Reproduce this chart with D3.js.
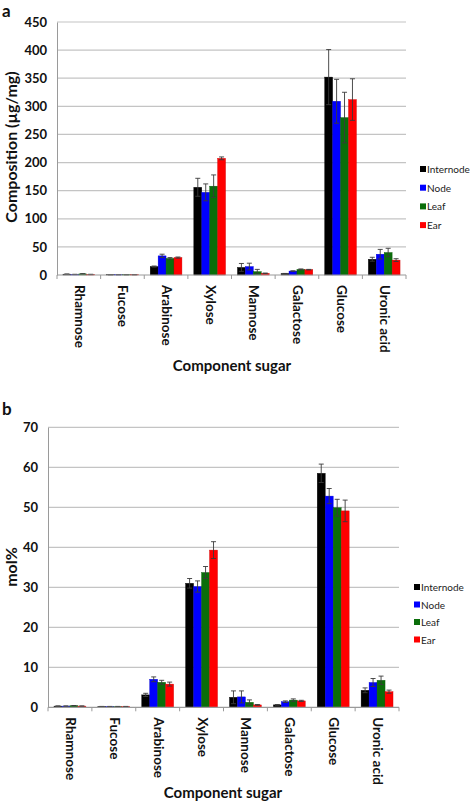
<!DOCTYPE html>
<html><head><meta charset="utf-8">
<script src="https://cdn.jsdelivr.net/npm/d3@7/dist/d3.min.js"></script>
<style>body{margin:0;background:#fff}svg{display:block}text{font-family:Lato,"Open Sans",sans-serif}</style>
</head><body>
<script>
const categories = ["Rhamnose","Fucose","Arabinose","Xylose","Mannose","Galactose","Glucose","Uronic acid"];
const seriesNames = ["Internode","Node","Leaf","Ear"];
const seriesColors = ["#000000","#0000ff","#0a6e0a","#ff0000"];

// Panel a: composition (µg/mg)
const compInternode = [1.5, 0.5, 15, 156, 13.5, 2.5, 352, 28];
const compNode      = [1,   0.5, 34, 147, 15,   7,   309, 37];
const compLeaf      = [2,   0.5, 29.5,158, 6,   10,  280, 40];
const compEar       = [1,   0.5, 31, 207.5, 3,  9.5, 312, 26.5];
const compErrInternode = [0.3, 0.1, 1, 16, 7,  0.3, 49, 3.5];
const compErrNode      = [0.3, 0.1, 3, 15, 6,  0.5, 39, 8.5];
const compErrLeaf      = [0.3, 0.1, 1.5,20,4,  0.8, 45, 7.5];
const compErrEar       = [0.3, 0.1, 1, 2.5, 0.5,0.5, 37, 2.5];
const compTicks = [0,50,100,150,200,250,300,350,400,450];

// Panel b: mol%
const molInternode = [0.3, 0.2, 3.1, 31, 2.5, 0.6, 58.5, 4.25];
const molNode      = [0.3, 0.2, 7,   30.2,2.6, 1.4, 52.8, 6.2];
const molLeaf      = [0.4, 0.2, 6.25,33.7,1.25,1.8, 49.9, 6.75];
const molEar       = [0.3, 0.2, 5.8, 39.3,0.6, 1.6, 49.1, 3.9];
const molErrInternode = [0.05,0.02,0.4,1.2,1.6,0.1,2.3,0.6];
const molErrNode      = [0.05,0.02,0.6,1.4,1.5,0.2,1.9,1.0];
const molErrLeaf      = [0.05,0.02,0.5,1.5,0.6,0.3,2.1,1.05];
const molErrEar       = [0.05,0.02,0.5,2.1,0.1,0.15,2.7,0.4];
const molTicks = [0,10,20,30,40,50,60,70];

const W = 472, H = 801;
const svg = d3.select("body").append("svg").attr("width", W).attr("height", H);

function panel(cfg) {
  const g = svg.append("g");
  const x = d3.scaleBand().domain(categories).range([cfg.left, cfg.right]);
  const xs = d3.scaleBand().domain(seriesNames).range([0, x.bandwidth()]).paddingOuter(0.75).paddingInner(0);
  const y = d3.scaleLinear().domain([0, cfg.max]).range([cfg.bottom, cfg.top]);

  // gridlines
  g.selectAll(".grid").data(cfg.ticks.filter(t => t > 0)).join("line")
    .attr("x1", cfg.left).attr("x2", cfg.right)
    .attr("y1", d => y(d)).attr("y2", d => y(d))
    .attr("stroke", "#c4c4c4").attr("stroke-width", 1.2);

  // y axis
  const ya = d3.axisLeft(y).tickValues(cfg.ticks).tickSize(0).tickPadding(10);
  const yg = g.append("g").attr("transform", `translate(${cfg.left},0)`).call(ya);
  yg.select(".domain").attr("stroke", "#9a9a9a");
  yg.selectAll("text").attr("font-size", 13).attr("font-weight", "bold").attr("fill", "#111");

  // bars
  cfg.series.forEach((vals, si) => {
    g.append("g").selectAll("rect").data(vals).join("rect")
      .attr("x", (d, i) => x(categories[i]) + xs(seriesNames[si]))
      .attr("width", xs.bandwidth())
      .attr("y", d => y(d))
      .attr("height", d => y(0) - y(d))
      .attr("fill", seriesColors[si])
      .attr("stroke", d3.color(seriesColors[si]).darker(0.6)).attr("stroke-width", 0.4);
  });
  // error bars
  cfg.series.forEach((vals, si) => {
    const errs = cfg.errs[si];
    const eg = g.append("g").attr("stroke", "#3a3a3a").attr("stroke-width", 0.9);
    vals.forEach((v, i) => {
      const cx = x(categories[i]) + xs(seriesNames[si]) + xs.bandwidth() / 2;
      const e = errs[i];
      eg.append("line").attr("x1", cx).attr("x2", cx).attr("y1", y(v - e)).attr("y2", y(v + e));
      eg.append("line").attr("x1", cx - 2.5).attr("x2", cx + 2.5).attr("y1", y(v + e)).attr("y2", y(v + e));
      eg.append("line").attr("x1", cx - 2.5).attr("x2", cx + 2.5).attr("y1", y(v - e)).attr("y2", y(v - e));
    });
  });

  // x axis
  g.append("line").attr("x1", cfg.left).attr("x2", cfg.right).attr("y1", y(0)).attr("y2", y(0))
    .attr("stroke", "#9a9a9a").attr("stroke-width", 1.2);
  const bounds = categories.map(c => x(c)).concat([cfg.right]);
  g.selectAll(".xt").data(bounds).join("line")
    .attr("x1", d => d).attr("x2", d => d).attr("y1", y(0)).attr("y2", y(0) + 4)
    .attr("stroke", "#9a9a9a");
  g.selectAll(".xl").data(categories).join("text")
    .attr("transform", d => `translate(${x(d) + x.bandwidth() / 2 + 1},${y(0) + 10}) rotate(90)`)
    .attr("dominant-baseline", "central")
    .attr("font-size", 13.5).attr("font-weight", "bold").attr("fill", "#111")
    .text(d => d);

  g.append("text").attr("x", cfg.xTitleX).attr("y", cfg.xTitleY).attr("text-anchor", "middle")
    .attr("font-size", 15).attr("font-weight", "bold").attr("fill", "#111").text("Component sugar");
  g.append("text").attr("transform", `translate(${cfg.yTitleX},${cfg.yTitleY}) rotate(-90)`)
    .attr("text-anchor", "middle").attr("dominant-baseline", "central")
    .attr("font-size", 16).attr("font-weight", "bold").attr("fill", "#111").text(cfg.yTitle);
  g.append("text").attr("x", 2).attr("y", cfg.letterY).attr("font-size", 17).attr("font-weight", "bold")
    .attr("fill", "#111").text(cfg.letter);

  // legend
  const lg = g.append("g");
  seriesNames.forEach((n, i) => {
    const ly = cfg.legendY + i * cfg.legendStep;
    lg.append("rect").attr("x", cfg.legendX).attr("y", ly - 3).attr("width", 6).attr("height", 6).attr("fill", seriesColors[i]);
    lg.append("text").attr("x", cfg.legendX + 7).attr("y", ly).attr("dominant-baseline", "central")
      .attr("font-size", 10).attr("fill", "#222").text(n);
  });
}

panel({
  left: 57, right: 406, top: 22, bottom: 275, max: 450, ticks: compTicks,
  series: [compInternode, compNode, compLeaf, compEar],
  errs: [compErrInternode, compErrNode, compErrLeaf, compErrEar],
  xTitleX: 232, xTitleY: 371, yTitleX: 10, yTitleY: 147, yTitle: "Composition (µg/mg)",
  letter: "a", letterY: 17, legendX: 420, legendY: 169, legendStep: 18.7
});
panel({
  left: 48, right: 399, top: 427.3, bottom: 707.3, max: 70, ticks: molTicks,
  series: [molInternode, molNode, molLeaf, molEar],
  errs: [molErrInternode, molErrNode, molErrLeaf, molErrEar],
  xTitleX: 223, xTitleY: 798, yTitleX: 10, yTitleY: 567, yTitle: "mol%",
  letter: "b", letterY: 415, legendX: 414, legendY: 587, legendStep: 17.5
});
</script>
</body></html>
